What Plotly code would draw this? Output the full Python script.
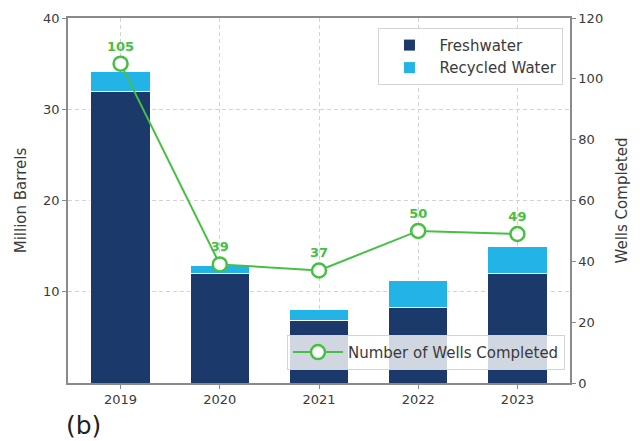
import plotly.graph_objects as go

# Water use and well completions by year
years = ["2019", "2020", "2021", "2022", "2023"]
freshwater = [32.0, 12.0, 6.9, 8.3, 12.0]
recycled = [2.1, 0.9, 1.2, 2.9, 3.0]
wells = [105, 39, 37, 50, 49]

left_ticks = [10, 20, 30, 40]
right_ticks = [0, 20, 40, 60, 80, 100, 120]

NAVY = "#1b3a6b"
CYAN = "#22b4e6"
GREEN = "#45c043"
TXT = "#3a3a3a"
FONT = "DejaVu Sans"

fig = go.Figure()

fig.add_trace(go.Bar(
    x=years, y=freshwater, name="Freshwater",
    marker=dict(color=NAVY, line=dict(color="white", width=1)),
    width=0.6, legend="legend",
))
fig.add_trace(go.Bar(
    x=years, y=recycled, name="Recycled Water",
    marker=dict(color=CYAN, line=dict(color="white", width=1)),
    width=0.6, legend="legend",
))
fig.add_trace(go.Scatter(
    x=years, y=wells, name="Number of Wells Completed",
    mode="lines+markers+text",
    line=dict(color=GREEN, width=2),
    marker=dict(symbol="circle", size=14, color="white",
                line=dict(color=GREEN, width=2.5)),
    text=[str(v) for v in wells], textposition="top center",
    textfont=dict(family=FONT, size=13, color=GREEN, weight="bold"),
    yaxis="y2", legend="legend2", cliponaxis=False,
))

axis_line = dict(showline=True, linecolor="#8a8a8a", linewidth=1.5,
                 ticks="outside", ticklen=4, tickcolor="#8a8a8a",
                 tickfont=dict(family=FONT, size=13, color=TXT))

fig.update_layout(
    width=640, height=441,
    margin=dict(l=68, r=70, t=18, b=58),
    paper_bgcolor="white", plot_bgcolor="white",
    barmode="stack", bargap=0.4,
    font=dict(family=FONT, color=TXT),
    xaxis=dict(
        range=[-0.53, 4.53], mirror=True,
        showgrid=True, gridcolor="#d2d2d2", griddash="4px,3px", gridwidth=1,
        **axis_line,
    ),
    yaxis=dict(
        range=[0, 40], tickvals=left_ticks, mirror=True,
        showgrid=True, gridcolor="#d2d2d2", griddash="4px,3px", gridwidth=1,
        zeroline=False,
        title=dict(text="Million Barrels", font=dict(family=FONT, size=15, color=TXT), standoff=13),
        **axis_line,
    ),
    yaxis2=dict(
        overlaying="y", side="right", range=[0, 120], tickvals=right_ticks,
        showgrid=False, zeroline=False,
        title=dict(text="Wells Completed", font=dict(family=FONT, size=15, color=TXT), standoff=14),
        **axis_line,
    ),
    legend=dict(
        x=0.987, y=0.973, xanchor="right", yanchor="top",
        bgcolor="rgba(255,255,255,0.85)", bordercolor="#d4d4d4", borderwidth=1,
        font=dict(family=FONT, size=15, color=TXT), traceorder="normal",
        itemwidth=50,
    ),
    legend2=dict(
        x=0.99, y=0.036, xanchor="right", yanchor="bottom",
        bgcolor="rgba(255,255,255,0.8)", bordercolor="#d4d4d4", borderwidth=1,
        font=dict(family=FONT, size=15, color=TXT), itemwidth=50,
    ),
    annotations=[dict(
        text="(b)", xref="paper", yref="paper", x=-0.008, y=-0.07,
        xanchor="left", yanchor="top", showarrow=False,
        font=dict(family=FONT, size=25, color="#222222"),
    )],
)

fig.write_html("out.html")
